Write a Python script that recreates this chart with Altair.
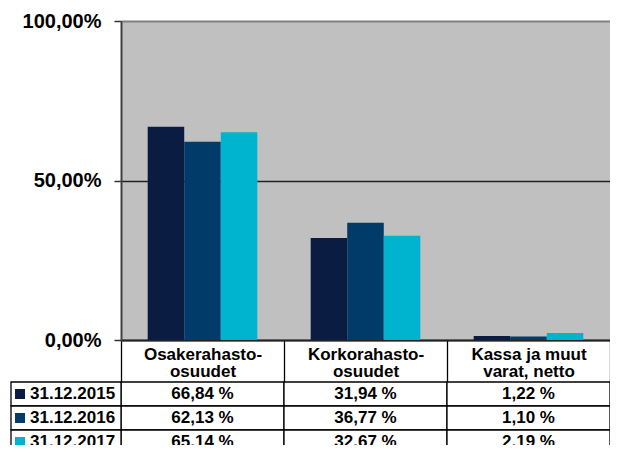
import altair as alt
import pandas as pd

categories = ["Osakerahasto-\nosuudet", "Korkorahasto-\nosuudet", "Kassa ja muut\nvarat, netto"]
years = ["31.12.2015", "31.12.2016", "31.12.2017"]
v2015 = [66.84, 31.94, 1.22]
v2016 = [62.13, 36.77, 1.10]
v2017 = [65.14, 32.67, 2.19]
colors = ["#0A1C42", "#003B69", "#00B4D0"]
y_ticks = [0, 50, 100]

rows = []
for yr, vals in zip(years, [v2015, v2016, v2017]):
    for cat, v in zip(categories, vals):
        rows.append({"category": cat, "year": yr, "value": v})
df = pd.DataFrame(rows)
df_years = pd.DataFrame({"year": years})

FONT = "Liberation Sans"
PAD_L = 113
W, H = 602 - PAD_L, 319
HEADER = 42
ROW = 24

x_scale = alt.Scale(domain=categories, paddingInner=0, paddingOuter=0)
color_scale = alt.Scale(domain=years, range=colors)

x_axis = alt.Axis(
    title=None,
    labelExpr="split(datum.label, '\\n')",
    labelAngle=0,
    labelFont=FONT,
    labelFontSize=17,
    labelFontWeight="bold",
    labelColor="black",
    labelLineHeight=17.5,
    labelPadding=-36,
    tickBand="extent",
    tickSize=HEADER,
    tickColor="black",
    tickWidth=1.3,
    domainColor="#222222",
    domainWidth=2,
    grid=False,
)

bars = alt.Chart(df).mark_bar(strokeWidth=0).encode(
    x=alt.X("category:N", scale=x_scale, sort=categories, axis=x_axis),
    xOffset=alt.XOffset("year:N", scale=alt.Scale(domain=years, paddingInner=0, paddingOuter=0.73)),
    y=alt.Y(
        "value:Q",
        scale=alt.Scale(domain=[0, 100]),
        axis=alt.Axis(
            title=None,
            values=y_ticks,
            labelExpr="replace(format(datum.value, '.2f'), '.', ',') + '%'",
            labelFont=FONT,
            labelFontSize=20,
            labelFontWeight="bold",
            labelColor="black",
            labelPadding=13,
            tickSize=7,
            tickColor="#333333",
            tickWidth=1.5,
            domainColor="#404040",
            domainWidth=2,
            grid=True,
            gridColor=alt.condition("datum.value == 50", alt.value("#222222"), alt.value("#808080")),
            gridWidth=alt.condition("datum.value == 50", alt.value(1.3), alt.value(2)),
        ),
    ),
    color=alt.Color("year:N", scale=color_scale, legend=None),
)

t0 = H + HEADER
y_tab = alt.Y(
    "year:N",
    scale=alt.Scale(domain=years, range=[t0, t0 + 3 * ROW], paddingInner=0, paddingOuter=0),
    axis=None,
)
x_tab = alt.X("category:N", scale=x_scale, sort=categories, axis=x_axis)

cells = alt.Chart(df).mark_rect(fill="white", stroke="black", strokeWidth=1.3).encode(x=x_tab, y=y_tab)
left_cells = alt.Chart(df_years).mark_rect(fill="white", stroke="black", strokeWidth=1.3).encode(
    x=alt.value(-110), x2=alt.value(0), y=y_tab
)
squares = alt.Chart(df_years).mark_square(size=100, opacity=1).encode(
    x=alt.value(-101), y=y_tab, color=alt.Color("year:N", scale=color_scale, legend=None)
)
year_text = alt.Chart(df_years).mark_text(
    align="left", baseline="middle", font=FONT, fontSize=17, fontWeight="bold", color="black"
).encode(x=alt.value(-91), y=y_tab, text="year:N")
val_text = alt.Chart(df).transform_calculate(
    label="replace(format(datum.value, '.2f'), '.', ',') + ' %'"
).mark_text(
    align="center", baseline="middle", font=FONT, fontSize=17, fontWeight="bold", color="black"
).encode(x=x_tab, y=y_tab, text="label:N")

chart = alt.layer(bars, cells, left_cells, squares, year_text, val_text).resolve_scale(
    y="independent"
).properties(
    width=W,
    height=H,
    autosize=alt.AutoSizeParams(type="none"),
    padding={"left": PAD_L, "top": 13, "right": 0, "bottom": 437 - 13 - H},
).configure(background="white").configure_view(fill="#C0C0C0", stroke=None)

chart.save("out.html", embed_options={"renderer": "svg", "actions": False})
